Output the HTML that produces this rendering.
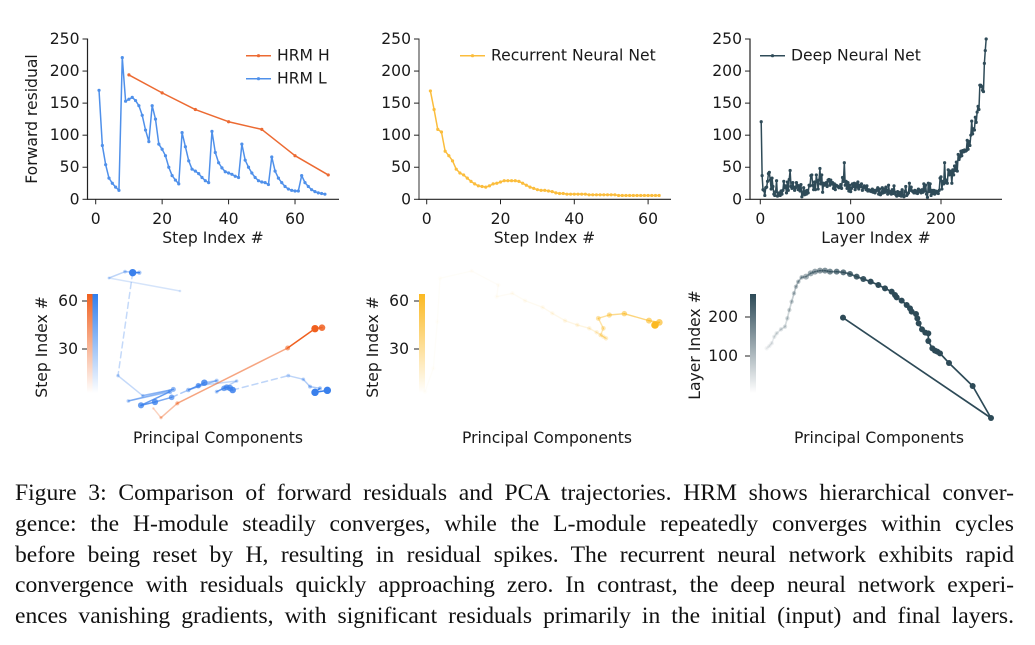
<!DOCTYPE html>
<html>
<head>
<meta charset="utf-8">
<title>Figure 3: Forward residuals and PCA trajectories</title>
<style>
html,body{margin:0;padding:0;background:#fff;}
#page{position:relative;width:1035px;height:645px;overflow:hidden;background:#fff;}
svg{position:absolute;left:0;top:0;}
svg text{font-family:"DejaVu Sans","Liberation Sans",sans-serif;fill:#1a1a1a;}
.cap{position:absolute;left:15px;width:999px;height:31px;line-height:31px;font-family:"Liberation Serif",serif;font-size:23.6px;color:#111;text-align:justify;text-align-last:justify;white-space:normal;}
</style>
</head>
<body>
<div id="page">
<svg id="chart" width="1035" height="645" viewBox="0 0 1035 645"></svg>
<div class="cap" style="top:478px">Figure 3: Comparison of forward residuals and PCA trajectories. HRM shows hierarchical conver-</div>
<div class="cap" style="top:509px">gence: the H-module steadily converges, while the L-module repeatedly converges within cycles</div>
<div class="cap" style="top:540px">before being reset by H, resulting in residual spikes. The recurrent neural network exhibits rapid</div>
<div class="cap" style="top:570px">convergence with residuals quickly approaching zero. In contrast, the deep neural network experi-</div>
<div class="cap" style="top:601px">ences vanishing gradients, with significant residuals primarily in the initial (input) and final layers.</div>
</div>
<script>
/* ---------- data ---------- */
const yTicks = [0, 50, 100, 150, 200, 250];
const stepTicks = [0, 20, 40, 60];
const layerTicks = [0, 100, 200];

const hrmHSteps = [10, 20, 30, 40, 50, 60, 70];
const hrmHValues = [194, 166, 140, 121, 109, 68, 38];
const hrmLValues = [170,84,54,33,25,19,14,221,153,156,159,154,146,131,108,90,146,125,86,78,68,50,37,30,24,104,82,60,47,44,40,34,29,26,106,73,57,49,43,41,39,36,34,86,61,50,41,34,29,27,26,23,66,44,33,26,20,16,14,13,13,37,26,20,15,12,10,9,8];
const rnnValues = [169,140,109,105,75,68,60,47,41,38,33,28,24,21,20,19,21,24,25,27,29,29,29,29,28,25,22,19,17,15,14,14,13,12,10,9,9,8,8,8,8,8,8,7,7,7,7,7,7,7,7,6,6,6,6,6,6,6,6,6,6,6,6];
const dnnValues = [121,37,15,14,6,18,19,28,40,42,30,16,33,20,8,6,12,29,5,8,10,6,13,8,14,28,18,21,10,27,14,31,45,20,17,26,19,14,18,26,22,15,21,13,23,4,10,18,7,13,8,14,10,22,21,37,38,22,15,27,15,38,28,16,30,48,24,38,11,25,22,24,26,20,30,31,22,30,24,26,17,24,15,22,21,20,18,19,23,17,34,28,57,22,28,17,26,13,22,12,17,24,20,25,15,24,19,27,16,22,20,24,14,18,21,19,15,21,13,15,13,14,12,16,11,14,10,13,15,18,8,16,7,9,18,10,16,11,19,14,8,22,10,12,8,15,9,21,11,7,5,12,8,6,11,5,15,7,4,12,20,6,8,10,25,14,19,13,12,10,14,10,13,9,16,12,14,10,15,11,24,13,22,8,3,25,12,24,6,14,9,14,8,13,10,12,9,14,33,35,16,28,24,57,26,30,25,46,38,44,42,25,46,38,52,45,58,44,70,62,66,75,68,76,74,77,75,76,92,78,90,84,100,122,102,110,108,128,120,136,145,140,178,178,176,170,168,212,232,250];

/* PCA trajectories in arbitrary principal-component units */
const pcaHPc1 = [400, 423, 472, 803, 885, 906];
const pcaHPc2 = [125, 97, 140, 306, 364, 367];
const pcaHStep = [1, 10, 20, 30, 60, 50];

const pcaLPc1 = [480,267,315,358,338,294,368,460,325,450,363,405,455,535,553,590,505,535,650,590,612,620,630,638,805,850,870,900,885,922];
const pcaLPc2 = [477,516,535,532,532,223,163,182,147,175,134,144,158,193,202,208,180,193,207,175,185,188,186,180,223,212,190,185,173,179];
const pcaLStep = [1,6,14,22,60,12,12,30,14,26,44,46,38,20,48,18,24,36,12,16,38,42,46,50,14,14,18,20,60,60];
const pcaLDashed = [0,0,0,0,1,0,0,0,0,0,0,0,1,0,0,0,0,0,0,0,0,0,0,1,0,0,0,0,0];

const pcaRnnPc1 = [225,250,262,270,365,445,440,487,525,578,607,645,682,718,740,760,768,752,760,745,778,823,897,928,915];
const pcaRnnPc2 = [175,245,385,515,537,495,460,470,448,428,410,388,375,365,353,340,335,345,365,395,405,409,388,383,375];

const pcaDnnPc1 = [260,268,275,283,290,303,315,322,328,335,342,348,355,365,378,392,405,420,435,450,470,490,510,530,550,572,595,615,635,645,650,665,680,690,695,708,712,716,726,736,745,745,757,765,772,780,807,878,933,489];
const pcaDnnPc2 = [305,312,320,340,350,362,370,395,420,445,470,490,505,518,520,530,535,538,538,535,535,533,528,520,513,505,495,485,475,465,458,448,435,425,415,408,395,380,362,352,350,327,305,298,295,290,261,192,96,397];

const colorbarHrmTicks = [60, 30];
const colorbarRnnTicks = [60, 30];
const colorbarDnnTicks = [200, 100];

/* ---------- helpers ---------- */
const svg = document.getElementById('chart');
const NS = 'http://www.w3.org/2000/svg';
const FS = 15.6;
function mk(tag, attrs, parent) {
  const e = document.createElementNS(NS, tag);
  for (const k in attrs) e.setAttribute(k, attrs[k]);
  (parent || svg).appendChild(e);
  return e;
}
function label(str, x, y, size, anchor, parent, rot) {
  const t = mk('text', {x: x, y: y, 'font-size': size, 'text-anchor': anchor, 'dominant-baseline': 'central'}, parent);
  if (rot) t.setAttribute('transform', 'rotate(-90 ' + x + ' ' + y + ')');
  t.textContent = str;
  return t;
}
function group(name) {
  const g = mk('g', {});
  
  
  return g;
}
const yZero = 199.3, yTop = 39;
function yScale(v) { return yZero + (yTop - yZero) * v / 250; }

function axes(name, spineX, endX, xFn, xt, yTitle, xTitle, xTitleX, spineColor) {
  const g = group(name + '-axes');
  mk('line', {x1: spineX, x2: spineX, y1: yTop - 0.5, y2: yZero + 0.5, stroke: spineColor, 'stroke-width': 1.2}, g);
  mk('line', {x1: spineX - 0.5, x2: endX, y1: yZero, y2: yZero, stroke: '#222', 'stroke-width': 1.1}, g);
  yTicks.forEach(function (v) {
    const y = yScale(v);
    mk('line', {x1: spineX - 5, x2: spineX, y1: y, y2: y, stroke: '#222', 'stroke-width': 1}, g);
    label(String(v), spineX - 8, y, FS, 'end', g);
  });
  xt.forEach(function (v) {
    const x = xFn(v);
    mk('line', {x1: x, x2: x, y1: yZero, y2: yZero + 5, stroke: '#222', 'stroke-width': 1}, g);
    label(String(v), x, 219, FS, 'middle', g);
  });
  label(xTitle, xTitleX, 238, FS, 'middle', g);
  if (yTitle) label(yTitle, 32, 119, FS, 'middle', g, true);
}
function series(name, xs, ys, xFn, color) {
  const g = group(name);
  const pts = xs.map(function (x, i) { return xFn(x).toFixed(2) + ',' + Math.max(yTop, yScale(ys[i])).toFixed(2); });
  mk('polyline', {points: pts.join(' '), fill: 'none', stroke: color, 'stroke-width': 1.5, 'stroke-linejoin': 'round'}, g);
  xs.forEach(function (x, i) {
    mk('circle', {cx: xFn(x), cy: Math.max(yTop, yScale(ys[i])), r: 1.6, fill: color}, g);
  });
}
function legend(name, x, y, color, text) {
  const g = group(name);
  mk('line', {x1: x, x2: x + 25, y1: y, y2: y, stroke: color, 'stroke-width': 1.5}, g);
  mk('circle', {cx: x + 12.5, cy: y, r: 1.6, fill: color}, g);
  label(text, x + 31, y, FS, 'start', g);
}
function indexRange(arr) { return arr.map(function (_, i) { return i + 1; }); }

/* ---------- top row ---------- */
const orange = '#ec6a32', blue = '#4f90ea', amber = '#fbbd3c', slate = '#2f4b58';
function x1(v) { return 95.7 + 3.322 * v; }
function x2(v) { return 426.7 + 3.69 * v; }
function x3(v) { return 760.3 + 0.9035 * v; }

axes('residual-hrm', 87.5, 339, x1, stepTicks, 'Forward residual', 'Step Index #', 213, '#222');
series('hrm-l-line', indexRange(hrmLValues), hrmLValues, x1, blue);
series('hrm-h-line', hrmHSteps, hrmHValues, x1, orange);
legend('legend-hrm-h', 246, 55.7, orange, 'HRM H');
legend('legend-hrm-l', 246, 78.7, blue, 'HRM L');

axes('residual-rnn', 419, 671, x2, stepTicks, null, 'Step Index #', 544.5, '#555');
series('rnn-line', indexRange(rnnValues), rnnValues, x2, amber);
legend('legend-rnn', 460, 55.7, amber, 'Recurrent Neural Net');

axes('residual-dnn', 750, 1002, x3, layerTicks, null, 'Layer Index #', 876, '#222');
series('dnn-line', indexRange(dnnValues), dnnValues, x3, slate);
legend('legend-dnn', 760, 55.7, slate, 'Deep Neural Net');

/* ---------- bottom row ---------- */
const defs = mk('defs', {});
function gradient(id, color) {
  const g = mk('linearGradient', {id: id, x1: 0, y1: 1, x2: 0, y2: 0}, defs);
  mk('stop', {offset: '0', 'stop-color': color, 'stop-opacity': 0}, g);
  mk('stop', {offset: '1', 'stop-color': color, 'stop-opacity': 1}, g);
}
gradient('gradOrange', '#f0601f');
gradient('gradBlue', '#2f7eee');
gradient('gradAmber', '#fbb922');
gradient('gradSlate', '#2d4a57');

function bar(name, x, w, grad) {
  const r = mk('rect', {x: x, y: 294, width: w, height: 99, fill: 'url(#' + grad + ')'});
  
  
}
function colorbarAxis(name, ticks, v0, y0, v1, y1, barX, title, titleX, titleY, labelX) {
  const g = group(name);
  ticks.forEach(function (v) {
    const y = y0 + (y1 - y0) * (v - v0) / (v1 - v0);
    mk('line', {x1: barX - 5, x2: barX, y1: y, y2: y, stroke: '#222', 'stroke-width': 1}, g);
    label(String(v), labelX, y, FS, 'end', g);
  });
  label(title, titleX, titleY, FS, 'middle', g, true);
}
function pcaX(left, v) { return left + v / 3; }
function pcaY(v) { return 255 + (585 - v) / 3; }

function trajectory(name, left, p1, p2, alphaFn, color, width, rFn, dashed) {
  const g = group(name);
  for (let i = 0; i < p1.length - 1; i++) {
    const l = mk('line', {
      x1: pcaX(left, p1[i]), y1: pcaY(p2[i]),
      x2: pcaX(left, p1[i + 1]), y2: pcaY(p2[i + 1]),
      stroke: color, 'stroke-width': width, 'stroke-linecap': 'round',
      opacity: alphaFn(i + 1)
    }, g);
    if (dashed && dashed[i]) l.setAttribute('stroke-dasharray', '6 4');
  }
  p1.forEach(function (v, i) {
    mk('circle', {cx: pcaX(left, v), cy: pcaY(p2[i]), r: rFn(i), fill: color, opacity: alphaFn(i)}, g);
  });
}

/* HRM trajectory panel */
bar('colorbar-hrm-h', 87, 5.5, 'gradOrange');
bar('colorbar-hrm-l', 92.5, 5.5, 'gradBlue');
colorbarAxis('colorbar-hrm-axis', colorbarHrmTicks, 0, 397, 60, 301, 87, 'Step Index #', 42, 347, 78);
trajectory('pca-hrm-l', 20, pcaLPc1, pcaLPc2, function (i) { return 0.12 + 0.88 * Math.min(1, pcaLStep[i] / 60); }, '#3a80ec', 1.5,
  function (i) { return 1.3 + 2.4 * pcaLStep[i] / 60; }, pcaLDashed);
trajectory('pca-hrm-h', 20, pcaHPc1, pcaHPc2, function (i) { return 0.12 + 0.88 * pcaHStep[i] / 60; }, '#f0601f', 1.5,
  function (i) { return 1.3 + 2.4 * pcaHStep[i] / 60; });
label('Principal Components', 218, 438, FS, 'middle', group('pca-hrm-x-title'));

/* RNN trajectory panel */
bar('colorbar-rnn', 419, 6, 'gradAmber');
colorbarAxis('colorbar-rnn-axis', colorbarRnnTicks, 0, 397, 60, 301, 419, 'Step Index #', 373, 347, 409);
trajectory('pca-rnn', 350, pcaRnnPc1, pcaRnnPc2, function (i) {
  const f = i / (pcaRnnPc1.length - 1);
  return 0.02 + 0.98 * f * f * f * 0.75 + (i === pcaRnnPc1.length - 1 ? 0.25 : 0);
}, '#fbb922', 1.4, function (i) {
  return 2.2 + 1.6 * Math.pow(i / (pcaRnnPc1.length - 1), 8);
});
label('Principal Components', 547, 438, FS, 'middle', group('pca-rnn-x-title'));

/* DNN trajectory panel */
bar('colorbar-dnn', 750, 6, 'gradSlate');
colorbarAxis('colorbar-dnn-axis', colorbarDnnTicks, 0, 395, 100, 356, 750, 'Layer Index #', 695, 345, 738);
trajectory('pca-dnn', 680, pcaDnnPc1, pcaDnnPc2, function (i) {
  const f = i / (pcaDnnPc1.length - 1);
  return Math.min(1, 0.06 + 2.6 * f * f + 0.5 * f);
}, '#2d4a57', 1.7, function (i) {
  return i < 14 ? 2.2 : 3;
});
label('Principal Components', 879, 438, FS, 'middle', group('pca-dnn-x-title'));
</script>
</body>
</html>
